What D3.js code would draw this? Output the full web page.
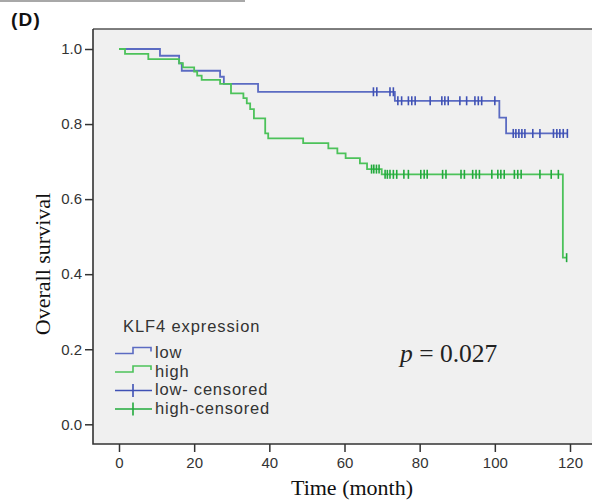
<!DOCTYPE html>
<html>
<head>
<meta charset="utf-8">
<script src="https://cdn.jsdelivr.net/npm/d3@7"></script>
<style>
  body { margin: 0; background: #fff; }
  svg text { font-family: "Liberation Sans", Arial, sans-serif; }
</style>
</head>
<body>
<svg id="chart" width="592" height="502"></svg>
<script>
// Axis ticks
const xTicks = [0, 20, 40, 60, 80, 100, 120];
const yTicks = [0.0, 0.2, 0.4, 0.6, 0.8, 1.0];

// Kaplan–Meier estimates: event times (months) and survival after each event
const lowTimes = [0, 10.9, 16.0, 16.7, 26.9, 27.9, 37.0, 73.4, 101.2, 103.0];
const lowSurv  = [1.0, 0.982, 0.962, 0.942, 0.926, 0.907, 0.886, 0.862, 0.817, 0.775];
const lowCensored = [67.7, 68.6, 72.1, 73.0, 74.2, 75.2, 77.0, 77.9, 78.8, 82.8, 85.9, 86.7,
  87.6, 90.7, 92.5, 94.7, 95.6, 96.5, 100.0, 104.9, 105.6, 106.4, 107.2, 108.0, 110.1,
  112.0, 115.6, 116.5, 117.3, 118.2, 119.3];

const highTimes = [0, 1.6, 7.8, 16.0, 17.0, 20.0, 20.8, 22.0, 26.9, 29.8, 33.1, 34.0, 34.9,
  35.9, 38.9, 39.7, 49.0, 55.7, 58.1, 60.3, 64.1, 66.0, 69.9, 118.1];
const highSurv = [1.0, 0.987, 0.973, 0.962, 0.951, 0.940, 0.929, 0.918, 0.907, 0.882, 0.869,
  0.855, 0.840, 0.815, 0.775, 0.762, 0.749, 0.735, 0.722, 0.709, 0.695, 0.680, 0.666, 0.444];
const highCensored = [67.2, 67.8, 68.5, 69.2, 70.8, 71.4, 72.1, 73.0, 73.9, 75.8, 77.0, 80.3,
  81.2, 82.0, 86.1, 87.0, 91.0, 91.9, 94.1, 95.0, 95.9, 99.2, 100.8, 101.6, 102.5, 105.2,
  106.1, 107.0, 112.0, 115.0, 116.9, 119.1];

const pValue = "0.027";

const colors = {
  low: "#5b6bc2", lowMark: "#3f51b5",
  high: "#4cc25a", highMark: "#22aa3c"
};

const svg = d3.select("#chart");

const x = d3.scaleLinear().domain([0, 120]).range([119, 570]);
const y = d3.scaleLinear().domain([0, 1]).range([424.3, 49]);

const frame = { left: 93, top: 29, bottom: 444 };

// panel label and rule above it
svg.append("line")
  .attr("x1", 0).attr("x2", 245).attr("y1", 1).attr("y2", 1)
  .attr("stroke", "#a8a8a8").attr("stroke-width", 2);
svg.append("text")
  .attr("x", 11).attr("y", 26)
  .attr("font-size", 19).attr("font-weight", "bold")
  .attr("letter-spacing", 1.2)
  .attr("fill", "#111")
  .text("(D)");

// plot area
svg.append("rect")
  .attr("x", frame.left).attr("y", frame.top)
  .attr("width", 600).attr("height", frame.bottom - frame.top)
  .attr("fill", "#f0f0f0");
svg.append("line")
  .attr("x1", frame.left).attr("x2", 600).attr("y1", frame.top).attr("y2", frame.top)
  .attr("stroke", "#555").attr("stroke-width", 1.3);
svg.append("path")
  .attr("d", `M${frame.left},${frame.top}V${frame.bottom}H600`)
  .attr("fill", "none").attr("stroke", "#333").attr("stroke-width", 1.6);

// axes
const styleAxis = g => {
  g.select(".domain").remove();
  g.selectAll(".tick line").attr("stroke", "#333").attr("stroke-width", 1.5);
  g.selectAll(".tick text")
    .attr("fill", "#333")
    .attr("font-size", 15)
    .attr("font-family", "'Liberation Sans', Arial, sans-serif");
};

svg.append("g")
  .attr("transform", `translate(0,${frame.bottom})`)
  .call(d3.axisBottom(x).tickValues(xTicks).tickSize(8).tickPadding(5).tickFormat(d3.format("d")))
  .call(styleAxis);

svg.append("g")
  .attr("transform", `translate(${frame.left},0)`)
  .call(d3.axisLeft(y).tickValues(yTicks).tickSize(8).tickPadding(3).tickFormat(d3.format(".1f")))
  .call(styleAxis);

// axis titles
svg.append("text")
  .attr("x", 352).attr("y", 495)
  .attr("text-anchor", "middle")
  .attr("font-size", 22)
  .style("font-family", "'Liberation Serif', 'Times New Roman', serif")
  .attr("fill", "#111")
  .text("Time (month)");

svg.append("text")
  .attr("transform", "translate(50,264) rotate(-90)")
  .attr("text-anchor", "middle")
  .attr("font-size", 22)
  .style("font-family", "'Liberation Serif', 'Times New Roman', serif")
  .attr("fill", "#111")
  .text("Overall survival");

// survival curves
const stepLine = d3.line()
  .x(d => x(d[0]))
  .y(d => y(d[1]))
  .curve(d3.curveStepAfter);

function stepPoints(times, surv, end) {
  const pts = times.map((t, i) => [t, surv[i]]);
  pts.push([end, surv[surv.length - 1]]);
  return pts;
}

function survivalAt(times, surv, t) {
  let s = surv[0];
  for (let i = 0; i < times.length; i++) if (times[i] <= t) s = surv[i];
  return s;
}

const groups = [
  { key: "low", times: lowTimes, surv: lowSurv, censored: lowCensored },
  { key: "high", times: highTimes, surv: highSurv, censored: highCensored }
];

groups.forEach(g => {
  const end = d3.max(g.censored);
  svg.append("path")
    .datum(stepPoints(g.times, g.surv, end))
    .attr("d", stepLine)
    .attr("fill", "none")
    .attr("stroke", colors[g.key])
    .attr("stroke-width", 1.8);

  svg.append("g")
    .selectAll("line")
    .data(g.censored)
    .join("line")
    .attr("x1", d => x(d)).attr("x2", d => x(d))
    .attr("y1", d => y(survivalAt(g.times, g.surv, d)) - 4.5)
    .attr("y2", d => y(survivalAt(g.times, g.surv, d)) + 4.5)
    .attr("stroke", colors[g.key + "Mark"])
    .attr("stroke-width", 1.6);
});

// legend
const legend = svg.append("g").attr("transform", "translate(115,0)");
legend.append("text")
  .attr("x", 8).attr("y", 332)
  .attr("font-size", 16.5).attr("letter-spacing", 0.9)
  .attr("fill", "#333")
  .text("KLF4 expression");

const legendItems = [
  { label: "low", color: colors.low, type: "step" },
  { label: "high", color: colors.high, type: "step" },
  { label: "low- censored", color: colors.lowMark, type: "cross" },
  { label: "high-censored", color: colors.highMark, type: "cross" }
];

legendItems.forEach((item, i) => {
  const base = 358 + i * 18.5;
  const mid = base - 4.5;
  if (item.type === "step") {
    legend.append("path")
      .attr("d", `M0,${mid}H18V${mid - 6}H36V${mid - 2}`)
      .attr("fill", "none").attr("stroke", item.color).attr("stroke-width", 1.6);
  } else {
    legend.append("path")
      .attr("d", `M0,${mid}H37M18,${mid - 6.5}V${mid + 6.5}`)
      .attr("fill", "none").attr("stroke", item.color).attr("stroke-width", 1.6);
  }
  legend.append("text")
    .attr("x", 40).attr("y", base)
    .attr("font-size", 16.5).attr("letter-spacing", 0.8)
    .attr("fill", "#333")
    .text(item.label);
});

// log-rank p-value
const pText = svg.append("text")
  .attr("x", 400).attr("y", 362)
  .attr("font-size", 25.5)
  .style("font-family", "'Liberation Serif', 'Times New Roman', serif")
  .attr("fill", "#222");
pText.append("tspan").attr("font-style", "italic").text("p");
pText.append("tspan").text(" = " + pValue);
</script>
</body>
</html>
